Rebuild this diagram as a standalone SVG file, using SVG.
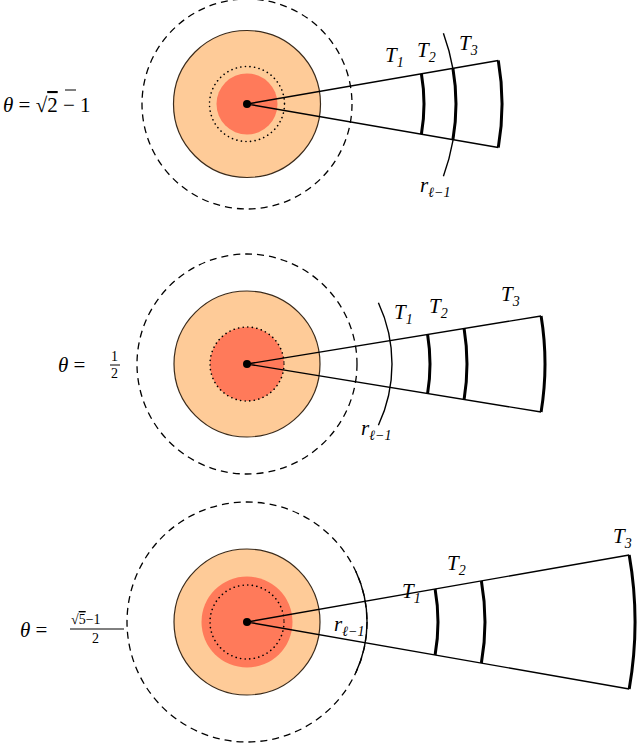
<svg xmlns="http://www.w3.org/2000/svg" width="640" height="743" viewBox="0 0 640 743">
<style>
.o{fill:#FECB98;stroke:#3a2a1a;stroke-width:1.2}
.r{fill:#FF7A5A}
.dot{fill:none;stroke:#000;stroke-width:1.6;stroke-dasharray:0.1 4.5;stroke-linecap:round}
.dash{fill:none;stroke:#000;stroke-width:1.3;stroke-dasharray:7 5}
.ln{fill:none;stroke:#000;stroke-width:1.4}
.th{fill:none;stroke:#000;stroke-width:3}
text{font-family:"Liberation Serif",serif;font-size:21px;fill:#000}
.i{font-style:italic}
.s{font-size:14px}
</style>
<g id="panel1">
<circle class="dash" cx="247" cy="104" r="105"/>
<circle class="o" cx="247" cy="104" r="73.5"/>
<circle class="r" cx="247" cy="104" r="30.5"/>
<circle class="dot" cx="247" cy="104" r="37.5"/>
<circle cx="247" cy="104" r="4"/>
<path class="ln" d="M247 104 L498.3 60.5 M247 104 L498.3 147.5"/>
<path class="th" d="M421.4 73.8 A177 177 0 0 1 421.4 134.2 M452.9 68.3 A209 209 0 0 1 452.9 139.7 M498.3 60.5 A255 255 0 0 1 498.3 147.5"/>
<path class="ln" d="M443.4 33.2 A209 209 0 0 1 443.4 176.2"/>
<text x="385" y="62" class="i">T<tspan class="s" dy="5">1</tspan></text>
<text x="417" y="57" class="i">T<tspan class="s" dy="5">2</tspan></text>
<text x="459" y="50" class="i">T<tspan class="s" dy="5">3</tspan></text>
<text x="420" y="192" class="i">r<tspan class="s" dy="5">ℓ−1</tspan></text>
<text x="3" y="112"><tspan class="i">θ</tspan> = √<tspan text-decoration="overline">2</tspan> − 1</text>
<line x1="65" y1="90" x2="76" y2="90" stroke="#000" stroke-width="1"/>
</g>
<g id="panel2">
<circle class="dash" cx="247" cy="364" r="110"/>
<circle class="o" cx="247" cy="364" r="73"/>
<circle class="r" cx="247" cy="364" r="37"/>
<circle class="dot" cx="247" cy="364" r="37"/>
<circle cx="247" cy="364" r="4"/>
<path class="ln" d="M247 364 L541.1 316 M247 364 L541.1 412"/>
<path class="th" d="M427.6 334.5 A183 183 0 0 1 427.6 393.5 M464.1 328.6 A220 220 0 0 1 464.1 399.4 M541.1 316 A298 298 0 0 1 541.1 412"/>
<path class="ln" d="M378.4 302.7 A145 145 0 0 1 378.4 425.3"/>
<text x="394" y="319" class="i">T<tspan class="s" dy="5">1</tspan></text>
<text x="429" y="313" class="i">T<tspan class="s" dy="5">2</tspan></text>
<text x="501" y="301" class="i">T<tspan class="s" dy="5">3</tspan></text>
<text x="361" y="435" class="i">r<tspan class="s" dy="5">ℓ−1</tspan></text>
<text x="58" y="372"><tspan class="i">θ</tspan> =</text>
<text x="111" y="361" class="s">1</text>
<line x1="110" y1="365" x2="120" y2="365" stroke="#000" stroke-width="1"/>
<text x="111" y="378" class="s">2</text>
</g>
<g id="panel3">
<circle class="dash" cx="247" cy="622" r="120"/>
<circle class="o" cx="247" cy="622" r="73"/>
<circle class="r" cx="247" cy="622" r="45.5"/>
<circle class="dot" cx="247" cy="622" r="37"/>
<circle cx="247" cy="622" r="4"/>
<path class="ln" d="M247 622 L629.2 555 M247 622 L629.2 689"/>
<path class="th" d="M435.1 589 A191 191 0 0 1 435.1 655 M481.4 580.9 A238 238 0 0 1 481.4 663.1 M629.2 555 A388 388 0 0 1 629.2 689"/>
<path class="ln" d="M355.8 571.3 A120 120 0 0 1 355.8 672.7"/>
<text x="402" y="598" class="i">T<tspan class="s" dy="5">1</tspan></text>
<text x="447" y="570" class="i">T<tspan class="s" dy="5">2</tspan></text>
<text x="613" y="543" class="i">T<tspan class="s" dy="5">3</tspan></text>
<text x="334" y="631" class="i">r<tspan class="s" dy="5">ℓ−1</tspan></text>
<text x="20" y="637"><tspan class="i">θ</tspan> =</text>
<text x="71" y="624" class="s">√<tspan text-decoration="overline">5</tspan>−1</text>
<line x1="70" y1="629" x2="124" y2="629" stroke="#000" stroke-width="1"/>
<text x="92" y="643" class="s">2</text>
</g>
</svg>
